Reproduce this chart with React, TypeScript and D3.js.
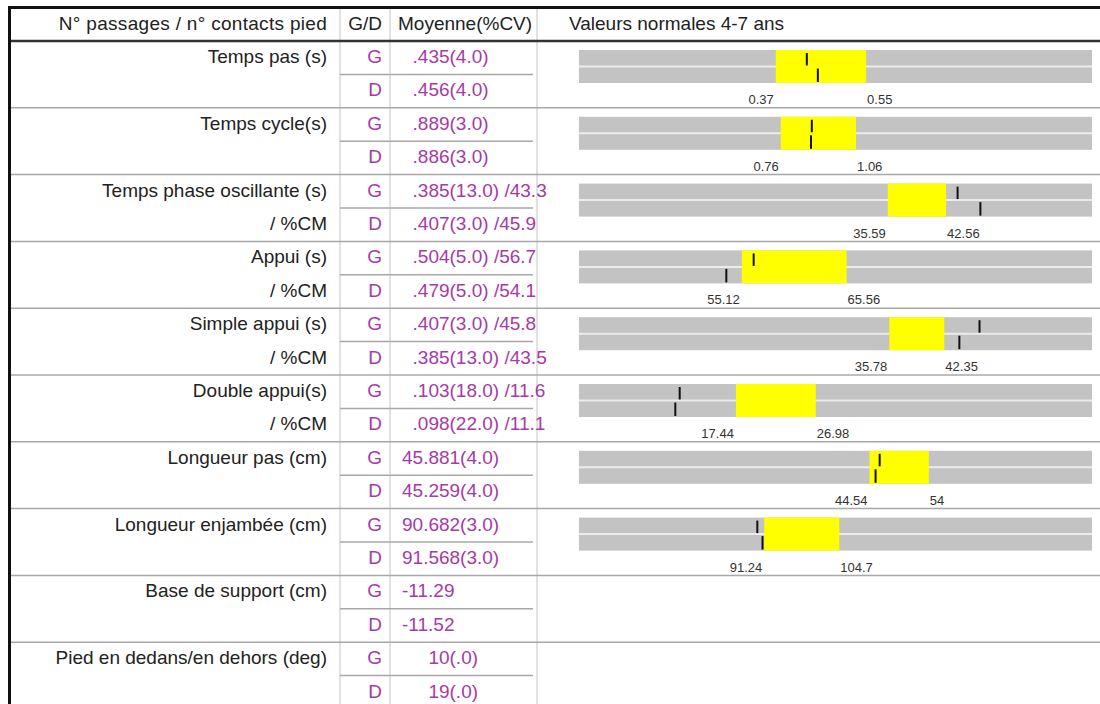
import { useEffect, useRef } from 'react';
import * as d3 from 'd3';

// Gait parameters, one row per metric (G = gauche, D = droite)
const metrics = [
  'Temps pas (s)',
  'Temps cycle(s)',
  'Temps phase oscillante (s)',
  'Appui (s)',
  'Simple appui (s)',
  'Double appui(s)',
  'Longueur pas (cm)',
  'Longueur enjambée (cm)',
  'Base de support (cm)',
  'Pied en dedans/en dehors (deg)',
];
const subLabels = ['', '', '/ %CM', '/ %CM', '/ %CM', '/ %CM', '', '', '', ''];
const sides = ['G', 'D'];

const meanG = [
  '  .435(4.0)',
  '  .889(3.0)',
  '  .385(13.0) /43.3',
  '  .504(5.0) /56.7',
  '  .407(3.0) /45.8',
  '  .103(18.0) /11.6',
  '45.881(4.0)',
  '90.682(3.0)',
  '-11.29',
  '     10(.0)',
];
const meanD = [
  '  .456(4.0)',
  '  .886(3.0)',
  '  .407(3.0) /45.9',
  '  .479(5.0) /54.1',
  '  .385(13.0) /43.5',
  '  .098(22.0) /11.1',
  '45.259(4.0)',
  '91.568(3.0)',
  '-11.52',
  '     19(.0)',
];

// Normal values 4-7 years (only the first 8 metrics have a bar)
const normLow = [0.37, 0.76, 35.59, 55.12, 35.78, 17.44, 44.54, 91.24];
const normHigh = [0.55, 1.06, 42.56, 65.56, 42.35, 26.98, 54, 104.7];
const markerG = [0.435, 0.889, 43.3, 56.7, 45.8, 11.6, 45.881, 90.682];
const markerD = [0.456, 0.886, 45.9, 54.1, 43.5, 11.1, 45.259, 91.568];
const domainMin = [0, 0, 0, 40, 0, 0, 0, 60];
const domainMax = [1, 2, 60, 90, 60, 60, 80, 150];

const WIDTH = 1100;
const HEIGHT = 704;
const HEADER_BOTTOM = 41;
const ROW_H = 66.8;
const FONT = '"Liberation Sans", Arial, Helvetica, sans-serif';
const PURPLE = '#a63aa6';

export default function App() {
  const svgRef = useRef<SVGSVGElement>(null);

  useEffect(() => {
    if (!svgRef.current) return;
    const svg = d3.select(svgRef.current);
    svg.selectAll('*').remove();

    const colGD = 340;
    const colMean = 390;
    const colRight = 537;
    const labelRight = 327;
    const gdRight = 382;
    const meanX = 402;
    const barX0 = 579;
    const barX1 = 1092;

    const y = d3
      .scaleBand<number>()
      .domain(d3.range(metrics.length))
      .range([HEADER_BOTTOM, HEADER_BOTTOM + ROW_H * metrics.length]);
    const half = ROW_H / 2;

    svg.append('rect').attr('width', WIDTH).attr('height', HEIGHT).attr('fill', '#fff');

    // grid: verticals
    [colGD, colMean, colRight].forEach((x) => {
      svg
        .append('line')
        .attr('x1', x)
        .attr('x2', x)
        .attr('y1', 8)
        .attr('y2', HEIGHT)
        .attr('stroke', '#c4c4c4')
        .attr('stroke-width', 1);
    });

    // row separators
    d3.range(1, metrics.length).forEach((i) => {
      svg
        .append('line')
        .attr('x1', 10)
        .attr('x2', WIDTH)
        .attr('y1', y(i)!)
        .attr('y2', y(i)!)
        .attr('stroke', '#a8a8a8')
        .attr('stroke-width', 1.5);
    });

    // G/D sub-row dividers
    d3.range(metrics.length).forEach((i) => {
      svg
        .append('line')
        .attr('x1', colGD)
        .attr('x2', 533)
        .attr('y1', y(i)! + half)
        .attr('y2', y(i)! + half)
        .attr('stroke', '#a8a8a8')
        .attr('stroke-width', 1.5);
    });

    // header + outer border
    svg
      .append('line')
      .attr('x1', 9)
      .attr('x2', WIDTH)
      .attr('y1', HEADER_BOTTOM)
      .attr('y2', HEADER_BOTTOM)
      .attr('stroke', '#333')
      .attr('stroke-width', 2.5);
    svg
      .append('line')
      .attr('x1', 8)
      .attr('x2', WIDTH)
      .attr('y1', 7.5)
      .attr('y2', 7.5)
      .attr('stroke', '#111')
      .attr('stroke-width', 3);
    svg
      .append('line')
      .attr('x1', 9.5)
      .attr('x2', 9.5)
      .attr('y1', 6)
      .attr('y2', HEIGHT)
      .attr('stroke', '#111')
      .attr('stroke-width', 3);

    const text = (x: number, yy: number, s: string, anchor: string, fill: string, size = 19) =>
      svg
        .append('text')
        .attr('x', x)
        .attr('y', yy)
        .attr('text-anchor', anchor)
        .attr('font-family', FONT)
        .attr('font-size', size)
        .attr('fill', fill)
        .attr('xml:space', 'preserve')
        .style('white-space', 'pre')
        .text(s);

    // header
    text(labelRight, 30, 'N° passages / n° contacts pied', 'end', '#222').attr('letter-spacing', 0.3);
    text(gdRight, 30, 'G/D', 'end', '#222');
    text(398, 30, 'Moyenne(%CV)', 'start', '#222');
    text(569, 30, 'Valeurs normales 4-7 ans', 'start', '#222');

    // table body
    metrics.forEach((m, i) => {
      const top = y(i)!;
      text(labelRight, top + 22, m, 'end', '#222');
      if (subLabels[i]) text(labelRight, top + half + 22, subLabels[i]!, 'end', '#222');
      sides.forEach((s, k) => {
        text(gdRight, top + k * half + 22, s, 'end', PURPLE);
        text(meanX, top + k * half + 22, k === 0 ? meanG[i]! : meanD[i]!, 'start', PURPLE);
      });
    });

    // normal-value bars
    normLow.forEach((lo, i) => {
      const hi = normHigh[i]!;
      const top = y(i)! + 9;
      const h = 33;
      const mid = top + h / 2;
      const norm = d3.scaleLinear().domain([domainMin[i]!, domainMax[i]!]).range([590, barX1]);
      const mark = d3.scaleLinear().domain([domainMin[i]!, domainMax[i]!]).range([578, 1104]);
      const g = svg.append('g');

      g.append('rect')
        .attr('x', barX0)
        .attr('y', top)
        .attr('width', barX1 - barX0)
        .attr('height', h)
        .attr('fill', '#c3c3c3');
      g.append('line')
        .attr('x1', barX0)
        .attr('x2', barX1)
        .attr('y1', mid)
        .attr('y2', mid)
        .attr('stroke', '#ececec')
        .attr('stroke-width', 2);
      g.append('rect')
        .attr('x', norm(lo))
        .attr('y', top)
        .attr('width', norm(hi) - norm(lo))
        .attr('height', h)
        .attr('fill', '#ffff00');

      g.append('line')
        .attr('x1', mark(markerG[i]!))
        .attr('x2', mark(markerG[i]!))
        .attr('y1', top + 3)
        .attr('y2', mid - 1)
        .attr('stroke', '#111')
        .attr('stroke-width', 2);
      g.append('line')
        .attr('x1', mark(markerD[i]!))
        .attr('x2', mark(markerD[i]!))
        .attr('y1', mid + 2)
        .attr('y2', top + h - 1)
        .attr('stroke', '#111')
        .attr('stroke-width', 2);

      text(norm(lo) - 2, y(i)! + 63, String(lo), 'end', '#333', 13);
      text(norm(hi) + 1, y(i)! + 63, String(hi), 'start', '#333', 13);
    });
  }, []);

  return (
    <svg
      ref={svgRef}
      width={WIDTH}
      height={HEIGHT}
      viewBox={`0 0 ${WIDTH} ${HEIGHT}`}
      style={{ position: 'absolute', left: 0, top: 0 }}
    />
  );
}
